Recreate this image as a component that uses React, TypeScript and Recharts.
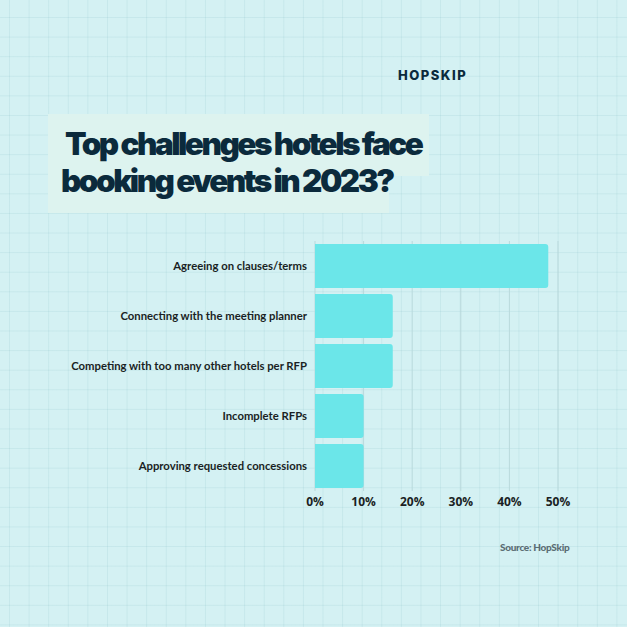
import React from "react"
import { Bar, BarChart, CartesianGrid, XAxis, YAxis } from "recharts"

const challenges = [
  "Agreeing on clauses/terms",
  "Connecting with the meeting planner",
  "Competing with too many other hotels per RFP",
  "Incomplete RFPs",
  "Approving requested concessions",
]
const shares = [48, 16, 16, 10, 10]
const percentTicks = [0, 10, 20, 30, 40, 50]

const data = challenges.map((name, i) => ({ name, value: shares[i] }))

const dark = "#0b2a3c"

export default function App() {
  return (
    <div
      style={{
        position: "absolute",
        left: 0,
        top: 0,
        width: 627,
        height: 627,
        overflow: "hidden",
        backgroundColor: "#d4f1f3",
        backgroundImage:
          "linear-gradient(to right, rgba(150,200,205,0.22) 1px, transparent 1px), linear-gradient(to bottom, rgba(150,200,205,0.22) 1px, transparent 1px)",
        backgroundSize: "19.6px 19.6px",
        backgroundPosition: "9px 17px",
        fontFamily: "Lato, sans-serif",
      }}
    >
      <div
        style={{
          position: "absolute",
          left: 398,
          top: 67,
          fontSize: 13,
          fontWeight: 800,
          letterSpacing: 1.5,
          color: dark,
          fontFamily: "Inter, sans-serif",
        }}
      >
        HOPSKIP
      </div>

      <div style={{ position: "absolute", left: 48, top: 114, width: 381, height: 62, background: "#ddf3ef" }} />
      <div style={{ position: "absolute", left: 48, top: 176, width: 341, height: 37, background: "#ddf3ef" }} />
      <div
        style={{
          position: "absolute",
          left: 61,
          top: 125,
          fontFamily: "Inter, sans-serif",
          fontWeight: 900,
          fontSize: 31.5,
          lineHeight: "37px",
          letterSpacing: -2.5,
          color: dark,
          whiteSpace: "nowrap",
        }}
      >
        <div style={{ paddingLeft: 4 }}>Top challenges hotels face</div>
        <div>booking events in 2023?</div>
      </div>

      <div style={{ position: "absolute", left: 0, top: 0 }}>
        <BarChart
          width={627}
          height={627}
          data={data}
          layout="vertical"
          margin={{ top: 241, right: 69, bottom: 106, left: 0 }}
          barCategoryGap={3}
        >
          <CartesianGrid horizontal={false} stroke="#b9d9dc" strokeWidth={1} />
          <XAxis
            type="number"
            domain={[0, 50]}
            ticks={percentTicks}
            tickFormatter={(v) => `${v}%`}
            axisLine={false}
            tickLine={false}
            tickMargin={0}
            height={30}
            tick={{ fill: "#1a1f24", fontSize: 12, fontWeight: 700, fontFamily: "'Open Sans', sans-serif" }}
          />
          <YAxis
            type="category"
            dataKey="name"
            width={315}
            axisLine={false}
            tickLine={false}
            tickMargin={2}
            tick={{ fill: "#1a1f24", fontSize: 11.3, fontWeight: 700, fontFamily: "Lato, sans-serif" }}
          />
          <Bar dataKey="value" fill="#6be6e9" radius={[0, 3, 3, 0]} isAnimationActive={false} />
        </BarChart>
      </div>

      <div
        style={{
          position: "absolute",
          left: 500,
          top: 541,
          fontSize: 10,
          fontWeight: 900,
          letterSpacing: -0.3,
          color: "#5b6d74",
        }}
      >
        Source: HopSkip
      </div>
    </div>
  )
}
